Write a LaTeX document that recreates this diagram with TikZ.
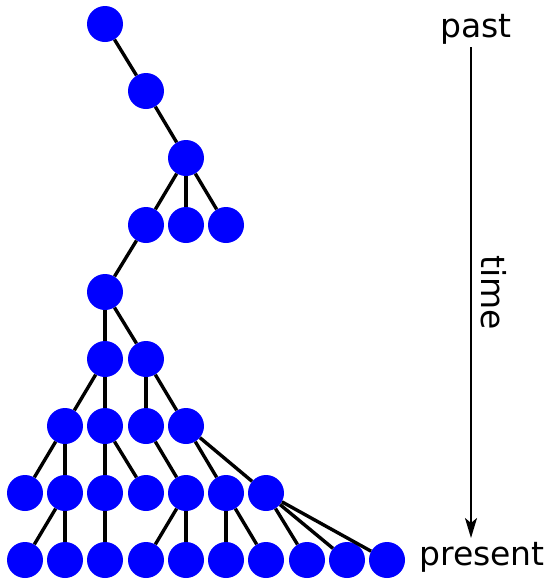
\documentclass[tikz,border=0pt]{standalone}
\usepackage{fontspec}
\setmainfont{DejaVu Sans}
\usetikzlibrary{arrows.meta}
\definecolor{cDot}{HTML}{0000FF}
\tikzset{
  person/.style={circle, fill=cDot, draw=none, minimum size=36pt, inner sep=0pt},
  link/.style={line width=3.4pt, black},
  timelbl/.style={font=\fontsize{33}{40}\selectfont, text=black, inner sep=0pt},
  timearw/.style={-{Stealth[length=20pt, width=12pt, inset=5pt]}, line width=2.2pt},
}

\begin{document}
\begin{tikzpicture}[x=1pt, y=-1pt]
  \useasboundingbox (0,0) rectangle (549,579);

  % generations, past at the top
  \node[person] (g0) at (105,24) {};
  \node[person] (g1) at (146,91) {};
  \node[person] (g2) at (186,158) {};
  \node[person] (g3a) at (146,225) {};
  \node[person] (g3b) at (186,225) {};
  \node[person] (g3c) at (226,225) {};
  \node[person] (g4) at (105,292) {};
  \node[person] (g5a) at (105,359) {};
  \node[person] (g5b) at (146,359) {};
  \node[person] (g6a) at (65,426) {};
  \node[person] (g6b) at (105,426) {};
  \node[person] (g6c) at (146,426) {};
  \node[person] (g6d) at (186,426) {};
  \node[person] (g7a) at (25,493) {};
  \node[person] (g7b) at (65,493) {};
  \node[person] (g7c) at (105,493) {};
  \node[person] (g7d) at (146,493) {};
  \node[person] (g7e) at (186,493) {};
  \node[person] (g7f) at (226,493) {};
  \node[person] (g7g) at (266,493) {};
  \node[person] (g8a) at (25,560) {};
  \node[person] (g8b) at (65,560) {};
  \node[person] (g8c) at (105,560) {};
  \node[person] (g8d) at (146,560) {};
  \node[person] (g8e) at (186,560) {};
  \node[person] (g8f) at (226,560) {};
  \node[person] (g8g) at (266,560) {};
  \node[person] (g8h) at (307,560) {};
  \node[person] (g8i) at (347,560) {};
  \node[person] (g8j) at (387,560) {};

  % parent -- child links
  \draw[link] (g0) -- (g1);
  \draw[link] (g1) -- (g2);
  \draw[link] (g2) -- (g3a);
  \draw[link] (g2) -- (g3b);
  \draw[link] (g2) -- (g3c);
  \draw[link] (g3a) -- (g4);
  \draw[link] (g4) -- (g5a);
  \draw[link] (g4) -- (g5b);
  \draw[link] (g5a) -- (g6a);
  \draw[link] (g5a) -- (g6b);
  \draw[link] (g5b) -- (g6c);
  \draw[link] (g5b) -- (g6d);
  \draw[link] (g6a) -- (g7a);
  \draw[link] (g6a) -- (g7b);
  \draw[link] (g6b) -- (g7c);
  \draw[link] (g6b) -- (g7d);
  \draw[link] (g6c) -- (g7e);
  \draw[link] (g6d) -- (g7f);
  \draw[link] (g6d) -- (g7g);
  \draw[link] (g7b) -- (g8a);
  \draw[link] (g7b) -- (g8b);
  \draw[link] (g7c) -- (g8c);
  \draw[link] (g7e) -- (g8d);
  \draw[link] (g7e) -- (g8e);
  \draw[link] (g7f) -- (g8f);
  \draw[link] (g7f) -- (g8g);
  \draw[link] (g7g) -- (g8h);
  \draw[link] (g7g) -- (g8i);
  \draw[link] (g7g) -- (g8j);

  % time axis
  \node[timelbl] (past) at (476,29) {past};
  \node[timelbl] (present) at (482,557) {present};
  \coordinate (tTop) at (471,47);
  \coordinate (tBot) at (471,538);
  \draw[timearw] (tTop) -- (tBot)
    node[timelbl, midway, rotate=-90, anchor=south, yshift=9pt] (time) {time};
\end{tikzpicture}
\end{document}
